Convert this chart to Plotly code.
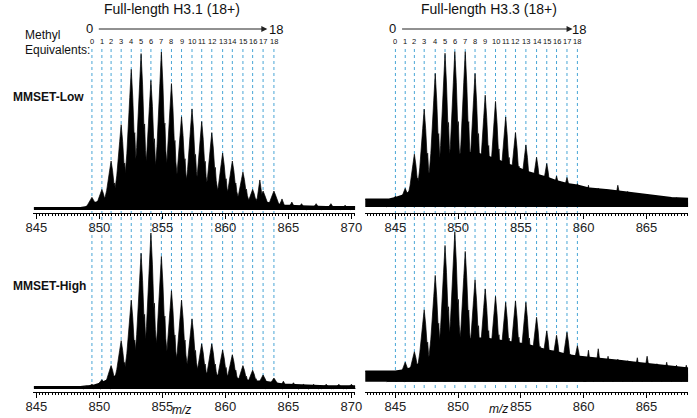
import plotly.graph_objects as go

W, H = 697, 418

# ---------------- data ----------------
methyl_labels = ["0", "1", "2", "3", "4", "5", "6", "7", "8", "9", "10",
                 "11", "12", "13", "14", "15", "16", "17", "18"]
x_tick_vals = [845, 850, 855, 860, 865, 870]

# m/z of each methyl equivalent (0..18)
h31_lines_mz = [849.41, 850.20, 850.93, 851.73, 852.53, 853.31, 854.09, 854.92, 855.72, 856.52,
                857.35, 858.12, 858.92, 859.78, 860.55, 861.39, 862.16, 862.99, 863.85]
h33_lines_mz = [845.01, 845.79, 846.52, 847.30, 848.18, 848.96, 849.74, 850.57, 851.35, 852.16,
                852.98, 853.79, 854.57, 855.40, 856.25, 857.06, 857.84, 858.67, 859.50]

# relative intensity (%) of the peak at each methyl equivalent
h31_low_peaks = [8, 13, 31, 54, 89, 99, 82, 100, 80, 59, 64, 56, 49, 36, 31, 24, 13, 12, 12]
h31_high_peaks = [3, 6, 15, 31, 57, 87, 100, 85, 63, 57, 45, 29, 29, 25, 22, 15, 12, 9, 7]
h33_low_peaks = [7, 12, 34, 63, 86, 99, 100, 100, 86, 72, 68, 58, 48, 40, 32, 28, 20, 19, 15]
h33_high_peaks = [7, 13, 20, 48, 71, 91, 100, 87, 68, 62, 57, 53, 54, 53, 43, 34, 31, 33, 24]

# minor peaks outside the methyl ladder
h31_low_extra_mz = [862.73, 864.49, 865.27, 866.04, 867.20, 868.37, 869.50]
h31_low_extra = [19, 7, 5, 4, 4, 4, 3]
h31_high_extra_mz = [864.60, 865.40, 866.20, 867.00, 868.00, 869.00, 870.00]
h31_high_extra = [5, 4, 3, 3, 3, 3, 3]
h33_tail_mz = [860.38, 861.16, 861.94, 862.72, 863.50, 864.27, 865.05, 865.83, 866.61, 867.39, 868.17]
h33_low_tail = [14, 12, 11, 14, 10, 9, 8, 6.5, 6, 6, 5.5]
h33_high_tail = [21, 22, 17, 15, 14, 16, 17, 12, 13, 11, 11]

# unresolved background (%) under the peaks
h31_env_mz = [844.8, 848.5, 849.0, 849.4, 850.2, 850.9, 851.7, 852.5, 853.3, 854.1, 854.9, 855.7, 856.5,
              857.3, 858.1, 858.9, 859.8, 860.6, 861.4, 862.2, 863.0, 863.9, 864.6, 866.0, 868.0, 870.3]
h31_low_env = [1.5, 1.5, 2, 4, 6, 10, 15, 20, 22, 22, 22, 20, 20, 18, 15, 12, 9, 7, 6, 5, 5, 4, 3, 2.5, 2, 2]
h31_high_env = [1.5, 1.5, 2, 2, 4, 7, 10, 13, 15, 16, 15, 14, 13, 11, 10, 9, 8, 7, 6, 5, 5, 4, 3, 2.5, 2, 2]
h33_env_mz = [842.6, 844.5, 845.0, 845.8, 846.5, 847.3, 848.2, 849.0, 849.7, 850.6, 851.4, 852.2, 853.0,
              853.8, 854.6, 855.4, 856.3, 857.1, 857.8, 858.7, 859.5, 860.5, 862.0, 863.0, 864.0, 865.0,
              866.0, 867.0, 868.4]
h33_low_env = [5, 5, 6, 8, 12, 18, 25, 30, 33, 35, 35, 33, 31, 28, 26, 23, 21, 19, 17, 15, 14, 12, 11, 10,
               9, 8, 7, 6, 5.5]
h33_high_env = [7, 7, 7, 8, 10, 14, 19, 23, 26, 28, 29, 29, 28, 27, 26, 25, 23, 21, 20, 18, 17, 16, 15, 14,
                13, 12, 11, 10, 9]

# ---------------- style ----------------
FONT = "Liberation Sans, Arial, Helvetica, sans-serif"
DASH_COLOR = "#49a6d6"
PEAK_HW = 0.7       # half base width of a ladder peak (m/z)
MINOR_HW = 0.4
# peak outline: (offset as fraction of half width, height as fraction of peak)
PEAK_SHAPE = [(-1.0, 0.0), (-0.5, 0.4), (-0.17, 0.8), (0.0, 1.0), (0.17, 0.8), (0.27, 0.64),
              (0.33, 0.52), (0.4, 0.55), (0.5, 0.38), (1.0, 0.0)]


def px_x(p):           # reference pixel -> paper
    return p / W


def px_y(p):
    return (H - p) / H


def peak_polygons(centers, heights, hw):
    xs, ys = [], []
    for c, h in zip(centers, heights):
        for fx, fy in PEAK_SHAPE:
            xs.append(c + fx * hw)
            ys.append(h * fy)
        xs.append(None)
        ys.append(None)
    return xs, ys


fig = go.Figure()

panels = [
    ("x", "y", h31_lines_mz, h31_low_peaks, h31_low_extra_mz, h31_low_extra, h31_env_mz, h31_low_env),
    ("x2", "y2", h33_lines_mz, h33_low_peaks, h33_tail_mz, h33_low_tail, h33_env_mz, h33_low_env),
    ("x3", "y3", h31_lines_mz, h31_high_peaks, h31_high_extra_mz, h31_high_extra, h31_env_mz, h31_high_env),
    ("x4", "y4", h33_lines_mz, h33_high_peaks, h33_tail_mz, h33_high_tail, h33_env_mz, h33_high_env),
]

for xa, ya, lines, peaks, ex_mz, ex, env_mz, env in panels:
    fig.add_trace(go.Scatter(x=env_mz, y=env, mode="lines", fill="tozeroy",
                             fillcolor="black", line=dict(color="black", width=1.5),
                             xaxis=xa, yaxis=ya, hoverinfo="skip", showlegend=False))
    px_, py_ = peak_polygons(lines, peaks, PEAK_HW)
    fig.add_trace(go.Scatter(x=px_, y=py_, mode="lines", fill="toself", fillcolor="black",
                             line=dict(color="black", width=0.7),
                             xaxis=xa, yaxis=ya, hoverinfo="skip", showlegend=False))
    ex_x, ex_y = peak_polygons(ex_mz, ex, MINOR_HW)
    fig.add_trace(go.Scatter(x=ex_x, y=ex_y, mode="lines", fill="toself", fillcolor="black",
                             line=dict(color="black", width=0.7),
                             xaxis=xa, yaxis=ya, hoverinfo="skip", showlegend=False))

# ---------------- axes ----------------
left_dom = [px_x(26), px_x(355)]
right_dom = [px_x(365), px_x(695)]
top_dom = [px_y(212.5), px_y(45)]
bot_dom = [px_y(391.5), px_y(230)]

xcommon = dict(showline=True, linecolor="black", linewidth=1, ticks="outside", ticklen=5,
               tickwidth=1, tickcolor="black", showgrid=False, zeroline=False,
               tickmode="array", tickvals=x_tick_vals, ticktext=[str(v) for v in x_tick_vals],
               tickfont=dict(family=FONT, size=13, color="#222"), ticklabelstandoff=-2,
               minor=dict(dtick=0.25, tick0=845, ticks="outside", ticklen=2.5, tickcolor="black",
                          tickwidth=0.8, showgrid=False),
               fixedrange=True)
ycommon = dict(visible=False, showgrid=False, zeroline=False, fixedrange=True)

fig.update_layout(
    xaxis=dict(domain=left_dom, range=[844.77, 870.31], anchor="y", **xcommon),
    xaxis2=dict(domain=right_dom, range=[842.60, 868.31], anchor="y2", **xcommon),
    xaxis3=dict(domain=left_dom, range=[844.77, 870.31], anchor="y3", **xcommon),
    xaxis4=dict(domain=right_dom, range=[842.60, 868.31], anchor="y4", **xcommon),
    yaxis=dict(domain=top_dom, range=[-1.58, 104.43], anchor="x", **ycommon),
    yaxis2=dict(domain=top_dom, range=[-3.54, 104.32], anchor="x2", **ycommon),
    yaxis3=dict(domain=bot_dom, range=[-1.60, 101.93], anchor="x3", **ycommon),
    yaxis4=dict(domain=bot_dom, range=[-6.55, 101.33], anchor="x4", **ycommon),
)

# ---------------- dashed methyl lines ----------------
shapes = []
for xref, lines in (("x", h31_lines_mz), ("x2", h33_lines_mz)):
    for m in lines:
        shapes.append(dict(type="line", xref=xref, yref="paper", x0=m, x1=m,
                           y0=px_y(388), y1=px_y(48), layer="below",
                           line=dict(color=DASH_COLOR, width=1, dash="3px,3px")))

# ---------------- annotations ----------------
ann = []


def text(x, y, s, size=12, bold=False, italic=False, xanchor="center", xref="paper", color="#111"):
    if bold:
        s = "<b>" + s + "</b>"
    if italic:
        s = "<i>" + s + "</i>"
    ann.append(dict(x=x, y=y, xref=xref, yref="paper", text=s, showarrow=False,
                    xanchor=xanchor, yanchor="middle",
                    font=dict(family=FONT, size=size, color=color)))


text(px_x(168), px_y(9), "Full-length H3.1 (18+)", size=14)
text(px_x(492), px_y(9), "Full-length H3.3 (18+)", size=14)

# 0 -> 18 arrows
text(px_x(83), px_y(29), "0", size=13)
text(px_x(274), px_y(29.5), "18", size=13)
text(px_x(393), px_y(29), "0", size=13)
text(px_x(584), px_y(29.5), "18", size=13)
for tail, head in ((95, 265), (405, 577)):
    ann.append(dict(x=px_x(head), y=px_y(29), xref="paper", yref="paper", text="",
                    showarrow=True, ax=-(head - tail), ay=0, axref="pixel", ayref="pixel",
                    arrowhead=2, arrowsize=1.2, arrowwidth=1, arrowcolor="#222"))

# methyl equivalent numbers
for xref, lines in (("x", h31_lines_mz), ("x2", h33_lines_mz)):
    for m, lab in zip(lines, methyl_labels):
        text(m, px_y(41.5), lab, size=7.5, xref=xref)

text(px_x(15), px_y(35), "Methyl", size=12, xanchor="left")
text(px_x(15), px_y(50), "Equivalents:", size=12, xanchor="left")
text(px_x(3), px_y(97), "MMSET-Low", size=12, bold=True, xanchor="left")
text(px_x(3), px_y(286), "MMSET-High", size=12, bold=True, xanchor="left")
text(px_x(177), px_y(410), "m/z", size=12, italic=True)
text(px_x(501), px_y(409), "m/z", size=12, italic=True)

fig.update_layout(width=W, height=H, margin=dict(l=0, r=0, t=0, b=0),
                  paper_bgcolor="white", plot_bgcolor="white",
                  shapes=shapes, annotations=ann, showlegend=False)

fig.write_html("out.html", config={"displayModeBar": False},
               post_script="document.body.style.margin='0';document.body.style.overflow='hidden';")
